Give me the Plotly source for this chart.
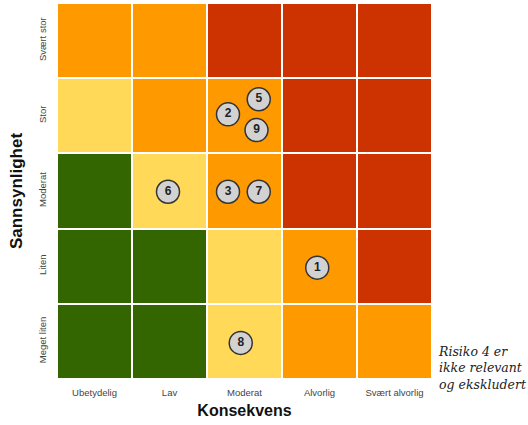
import plotly.graph_objects as go

consequences = ["Ubetydelig", "Lav", "Moderat", "Alvorlig", "Svært alvorlig"]
likelihoods = ["Meget liten", "Liten", "Moderat", "Stor", "Svært stor"]  # bottom to top

# risk level per cell: 0 green, 1 yellow, 2 orange, 3 red (rows bottom->top)
risk_levels = [
    [0, 0, 1, 2, 2],
    [0, 0, 1, 2, 3],
    [0, 1, 2, 3, 3],
    [1, 2, 2, 3, 3],
    [2, 2, 3, 3, 3],
]

risk_ids = ["1", "2", "3", "5", "6", "7", "8", "9"]
risk_x = [3.47, 2.28, 2.28, 2.69, 1.48, 2.69, 2.45, 2.66]
risk_y = [1.48, 3.52, 2.49, 3.72, 2.49, 2.49, 0.48, 3.31]

colors = ["#336600", "#FFD957", "#FF9900", "#CC3300"]
colorscale = [
    [0.0, colors[0]], [0.25, colors[0]],
    [0.25, colors[1]], [0.5, colors[1]],
    [0.5, colors[2]], [0.75, colors[2]],
    [0.75, colors[3]], [1.0, colors[3]],
]

centers = [i + 0.5 for i in range(5)]

fig = go.Figure()
fig.add_trace(go.Heatmap(
    x=centers, y=centers, z=risk_levels,
    zmin=-0.5, zmax=3.5, colorscale=colorscale, showscale=False,
    xgap=2, ygap=2, hoverinfo="skip",
))
fig.add_trace(go.Scatter(
    x=risk_x, y=risk_y, mode="markers+text", text=risk_ids,
    textposition="middle center",
    textfont=dict(family="Arial", size=12, color="#222222", weight="bold"),
    marker=dict(size=23, color="#D2D2D2", line=dict(color="#333333", width=1.5)),
    hoverinfo="skip", showlegend=False,
))

fig.update_layout(
    width=528, height=425,
    margin=dict(l=57, r=96, t=3, b=46),
    paper_bgcolor="white", plot_bgcolor="white",
    showlegend=False,
    xaxis=dict(range=[0, 5], tickvals=centers, ticktext=consequences,
               showgrid=False, zeroline=False, showline=False, ticks="",
               ticklabelstandoff=6,
               tickfont=dict(family="Arial", size=9.5, color="#444444"),
               title=dict(text="<b>Konsekvens</b>", standoff=8,
                          font=dict(family="Arial", size=16, color="#111111"))),
    yaxis=dict(range=[0, 5], tickvals=centers, ticktext=likelihoods,
               tickangle=-90,
               showgrid=False, zeroline=False, showline=False, ticks="",
               ticklabelstandoff=8,
               tickfont=dict(family="Arial", size=9.5, color="#444444"),
               title=dict(text="<b>Sannsynlighet</b>", standoff=10,
                          font=dict(family="Arial", size=17, color="#111111"))),
    annotations=[dict(
        x=1.01, y=0.03, xref="paper", yref="paper", xanchor="left", yanchor="middle",
        align="left", showarrow=False,
        text="<i>Risiko 4 er<br>ikke relevant<br>og ekskludert</i>",
        font=dict(family="DejaVu Serif", size=12.5, color="#222222"),
    )],
)

fig.write_html("out.html")
